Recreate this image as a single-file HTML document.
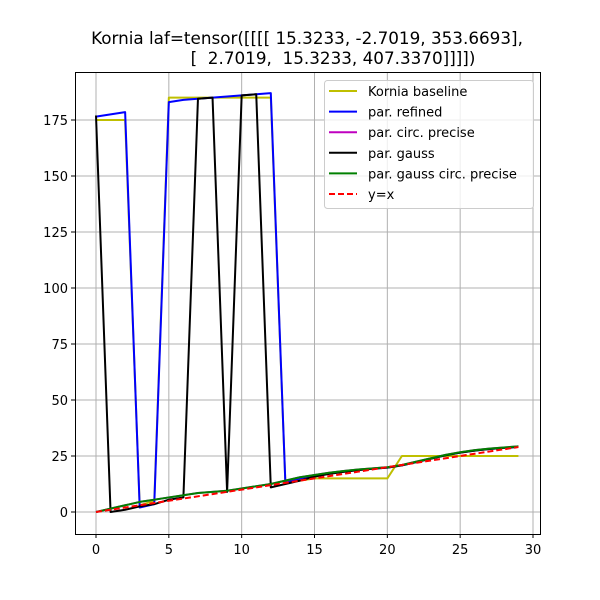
<!DOCTYPE html>
<html><head><meta charset="utf-8"><style>body{margin:0;background:#fff}svg{display:block;font-family:"DejaVu Sans","Liberation Sans",sans-serif}</style></head>
<body>
<svg id="chart" width="600" height="600" viewBox="0 0 600 600" xmlns="http://www.w3.org/2000/svg">
<rect width="600" height="600" fill="#fff"/>
<text x="307" y="44" font-size="16.8" text-anchor="middle">Kornia laf=tensor([[[[ 15.3233,  -2.7019, 353.6693],</text>
<text x="333" y="64" font-size="16.8" text-anchor="middle" xml:space="preserve">[  2.7019,  15.3233, 407.3370]]]])</text>
<g id="grid"></g>
<g id="series"></g>
<rect x="75.5" y="72.5" width="465" height="462" fill="none" stroke="#000" stroke-width="1"/>
<g id="ticks"></g>
<g id="legend"></g>
</svg>
<script>
const xs = [0,1,2,3,4,5,6,7,8,9,10,11,12,13,14,15,16,17,18,19,20,21,22,23,24,25,26,27,28,29];
const baseline = [175,175,175,3,5,185,185,185,185,185,185,185,185,13,14,15,15,15,15,15,15,25,25,25,25,25,25,25,25,25];
const refined = [176.5,177.5,178.5,2,3.5,183,184,184.5,185,185.5,186,186.5,187,13,15,16.3,17.3,18.1,18.8,19.3,19.8,20.8,22.3,23.8,25.3,26.5,27.4,28.1,28.6,29.1];
const circPrecise = [0,1.5,3,4.5,5.5,6.5,7.5,8.5,9,9.5,10.5,11.5,12.5,14,15.5,16.5,17.5,18.3,19,19.5,20,21,22.5,24,25.5,26.7,27.6,28.3,28.8,29.3];
const gauss = [177,0,1,2.5,3.5,5.5,6.5,184.5,185,9,186,186.5,11,12.5,14,15.8,17,17.9,18.7,19.3,19.8,20.8,22.3,23.8,25.3,26.5,27.4,28.1,28.6,29.1];
const gaussCirc = [0,1.5,3,4.5,5.5,6.5,7.5,8.5,9,9.5,10.5,11.5,12.5,14,15.5,16.5,17.5,18.3,19,19.5,20,21,22.5,24,25.5,26.7,27.6,28.3,28.8,29.3];
const yEqX = xs.slice();
const xTicks = [0,5,10,15,20,25,30];
const yTicks = [0,25,50,75,100,125,150,175];
const NS='http://www.w3.org/2000/svg';
function sx(v){return 96+v*(437/30);}
function sy(v){return 512-v*(392/175);}
function mk(tag,attrs,parent){const e=document.createElementNS(NS,tag);for(const k in attrs)e.setAttribute(k,attrs[k]);parent.appendChild(e);return e;}
const grid=document.getElementById('grid'),ticks=document.getElementById('ticks'),ser=document.getElementById('series'),leg=document.getElementById('legend');
xTicks.forEach(t=>{const x=sx(t);
 const g=mk('line',{x1:x,x2:x,y1:72,y2:534,stroke:'#b0b0b0','stroke-width':1},grid);
 
 const tk=mk('line',{x1:x,x2:x,y1:534,y2:538,stroke:'#000'},ticks);
 
 const tx=mk('text',{x:x,y:554,'font-size':13,'text-anchor':'middle'},ticks);tx.textContent=t;
 });
yTicks.forEach(t=>{const y=sy(t);
 const g=mk('line',{x1:75,x2:540,y1:y,y2:y,stroke:'#b0b0b0','stroke-width':1},grid);
 
 const tk=mk('line',{x1:71,x2:75,y1:y,y2:y,stroke:'#000'},ticks);
 
 const tx=mk('text',{x:68,y:y+5,'font-size':13,'text-anchor':'end'},ticks);tx.textContent=t;
 });
const series=[
 ['kornia-baseline-line',baseline,'#bfbf00',null,'Kornia baseline'],
 ['par-refined-line',refined,'#0000ff',null,'par. refined'],
 ['par-circ-precise-line',circPrecise,'#bf00bf',null,'par. circ. precise'],
 ['par-gauss-line',gauss,'#000000',null,'par. gauss'],
 ['par-gauss-circ-precise-line',gaussCirc,'#008000',null,'par. gauss circ. precise'],
 ['y-equals-x-line',yEqX,'#ff0000','6,3','y=x']];
series.forEach(s=>{
 const p=mk('polyline',{points:xs.map((x,i)=>sx(x)+','+sy(s[1][i])).join(' '),fill:'none',stroke:s[2],'stroke-width':2,'stroke-linejoin':'round'},ser);
 if(s[3])p.setAttribute('stroke-dasharray',s[3]);
 });
const lb=mk('rect',{x:324.5,y:80.5,width:209,height:128,rx:3,fill:'#fff','fill-opacity':0.8,stroke:'#ccc'},leg);

series.forEach((s,i)=>{const y=91+i*20.6;
 const l=mk('line',{x1:329,x2:357,y1:y,y2:y,stroke:s[2],'stroke-width':2},leg);
 if(s[3])l.setAttribute('stroke-dasharray',s[3]);
 
 const t=mk('text',{x:368,y:y+5,'font-size':13},leg);t.textContent=s[4];
 });
</script>
</body></html>
